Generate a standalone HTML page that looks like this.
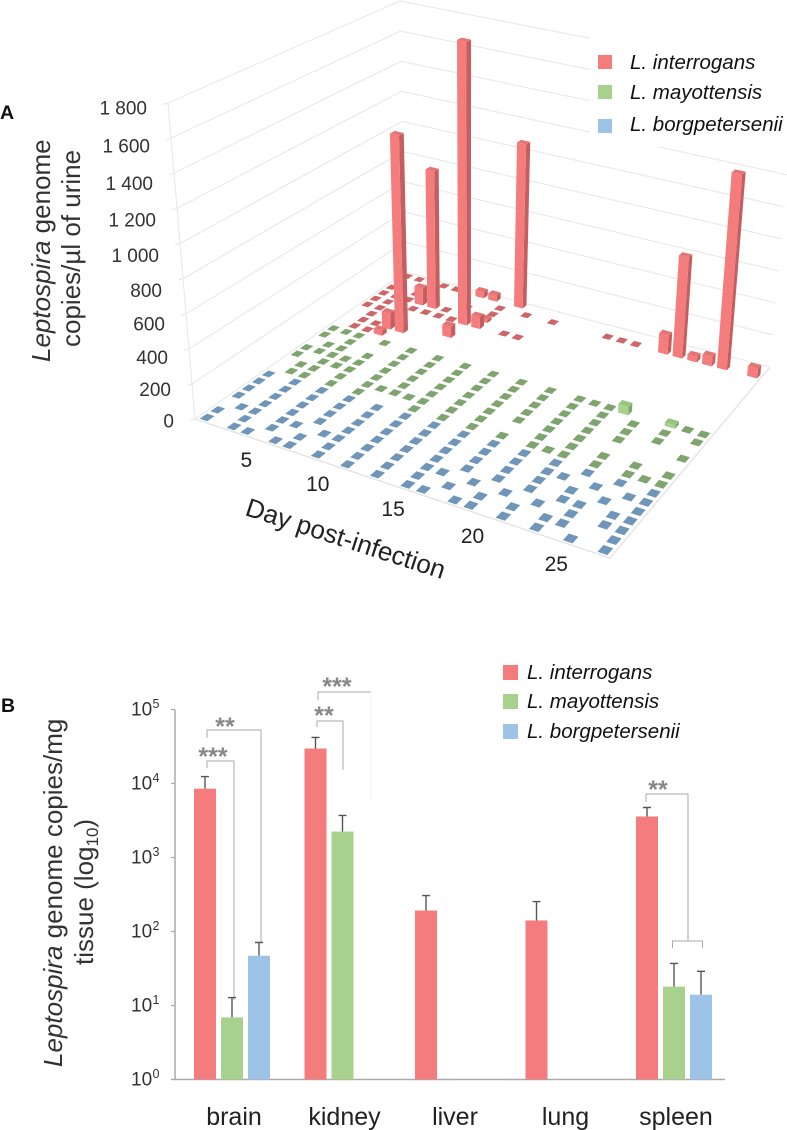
<!DOCTYPE html>
<html lang="en">
<head>
<meta charset="utf-8">
<title>Leptospira genome copies chart</title>
<style>
html,body{margin:0;padding:0;background:#fff;}
svg{display:block;font-family:"Liberation Sans",sans-serif;}
</style>
</head>
<body>
<svg id="figure" xmlns="http://www.w3.org/2000/svg" width="787" height="1130" viewBox="0 0 787 1130">
  <g id="panel-a">
    <g id="a-grid"></g>
    <rect x="590" y="0" width="197" height="147" fill="#fff"></rect>
    <g id="a-marks"></g>
    <g id="a-yticks" font-size="19" fill="#333" text-anchor="end"></g>
    <g id="a-xticks" font-size="21" fill="#222" text-anchor="middle"></g>
    <text x="0" y="119" font-size="19.5" font-weight="bold" fill="#111">A</text>
    <text transform="translate(50,362) rotate(-90)" font-size="26" fill="#333"><tspan font-style="italic">Leptospira</tspan> genome</text>
    <text transform="translate(80,347) rotate(-90)" font-size="26" fill="#333">copies/µl of urine</text>
    <text transform="translate(343,547) rotate(18)" font-size="26" fill="#222" text-anchor="middle">Day post-infection</text>
    <g font-size="20.5" font-style="italic" fill="#111">
      <rect x="598" y="55" width="14" height="14" fill="#f47c7c"></rect>
      <text x="630" y="69">L. interrogans</text>
      <rect x="598" y="85" width="14" height="14" fill="#a9d18e"></rect>
      <text x="630" y="99">L. mayottensis</text>
      <rect x="598" y="119" width="14" height="14" fill="#9dc3e6"></rect>
      <text x="630" y="131">L. borgpetersenii</text>
    </g>
  </g>
  <g id="panel-b">
    <text x="1" y="712" font-size="19.5" font-weight="bold" fill="#111">B</text>
    <text transform="translate(62,1067) rotate(-90)" font-size="26" fill="#333"><tspan font-style="italic">Leptospira</tspan> genome copies/mg</text>
    <text transform="translate(93,965) rotate(-90)" font-size="26" fill="#333">tissue (log<tspan font-size="17" dy="5">10</tspan><tspan dy="-5">)</tspan></text>
    <g id="b-axis"></g>
    <g id="b-brackets"></g>
    <g id="b-bars"></g>
    <g id="b-xticks" font-size="25" fill="#222" text-anchor="middle"></g>
    <g font-size="20.5" font-style="italic" fill="#111">
      <rect x="503" y="665" width="15" height="15" fill="#f47c7c"></rect>
      <text x="527" y="679">L. interrogans</text>
      <rect x="503" y="694" width="15" height="15" fill="#a9d18e"></rect>
      <text x="527" y="708">L. mayottensis</text>
      <rect x="503" y="724" width="15" height="15" fill="#9dc3e6"></rect>
      <text x="527" y="738">L. borgpetersenii</text>
    </g>
  </g>
</svg>
<script>
/* ---------- Panel A data ---------- */
const aDayTicks = [5, 10, 15, 20, 25];
const aValueTicks = [0, 200, 400, 600, 800, 1000, 1200, 1400, 1600, 1800];
const aValueLabels = ['0', '200', '400', '600', '800', '1 000', '1 200', '1 400', '1 600', '1 800'];

/* day index lists per mouse, with the copies measured on those days */
const borgpetersenii_days = [
  [0,2,3,5,6,8,10,12,14,15,17,18,20,22,24,26],
  [0,2,4,6,8,10,12,14,16,18,20,22,23,26],
  [1,2,4,5,7,8,10,12,14,15,17,19,21,23,25,26],
  [0,2,4,6,8,10,12,14,16,18,20,22,23,25,26],
  [0,2,4,6,8,10,12,14,16,18,20,22,24,26],
  [0,2,4,6,8,10,12,14,16,18,20,21,23,25,26],
  [0,2,4,6,8,10,12,14,16,18,20,22,24,26]
];
const borgpetersenii_copies = [
  [0,0,0,0,0,0,0,0,0,0,0,0,0,0,0,0],
  [0,0,0,0,0,0,0,0,0,0,0,0,0,0],
  [0,0,0,0,0,0,0,0,0,0,0,0,0,0,0,0],
  [0,0,0,0,0,0,0,0,0,0,0,0,0,0,0],
  [0,0,0,0,0,0,0,0,0,0,0,0,0,0],
  [0,0,0,0,0,0,0,0,0,0,0,0,0,0,0],
  [0,0,0,0,0,0,0,0,0,0,0,0,0,0]
];
const mayottensis_days = [
  [1,2,4,6,10,12,14,16,18,19,20,22,24,25,26],
  [1,2,4,6,7,8,9,10,12,14,18,20,22,24,26],
  [0,2,3,4,6,8,10,12,14,16,18,20],
  [0,1,2,3,4,6,8,10,12,14,16,18,20,22,26],
  [1,2,4,6,8,10,12,14,16,18,20,22,24],
  [0,2,6,8,10,12,14,16,18,20,22,24,26],
  [0,1,2,4,6,8,10,12,14,16,18,19,20,21,24,25,26]
];
const mayottensis_copies = [
  [0,0,0,0,0,0,0,0,0,0,0,0,0,0,0],
  [0,0,0,0,0,0,0,0,0,0,0,0,0,0,0],
  [0,0,0,0,0,0,0,0,0,0,0,0],
  [0,0,0,0,0,0,0,0,0,0,0,0,0,0,0],
  [0,0,0,0,0,0,0,0,0,0,0,0,0],
  [0,0,0,0,0,0,0,0,0,0,0,0,0],
  [0,0,0,0,0,0,0,0,0,0,0,0,0,50,20,0,0]
];
const interrogans_days = [
  [1,2,3],
  [1,2,3,4],
  [1,7],
  [0,1],
  [0,1,3,4,5,6,7,8,10,11],
  [0,1,2,3,4,5,8],
  [0,2,6,8],
  [8,10,12,16,17,18,20,21,22,23,24,26],
  [0,1,3,4,6,7,9]
];
const interrogans_copies = [
  [0,0,30],
  [0,0,100,1230],
  [0,70],
  [0,0],
  [0,0,0,0,0,0,1790,75,0,0],
  [0,0,0,110,880,0,20],
  [0,0,0,0],
  [0,0,0,0,0,0,120,630,35,60,1215,60],
  [0,0,0,0,40,40,1060]
];

/* ---------- Panel B data ---------- */
const tissues = ['brain', 'kidney', 'liver', 'lung', 'spleen'];
const bDecades = [0, 1, 2, 3, 4, 5];
const bInterrogans = [8500, 29700, 192, 141, 3580];
const bInterrogansErr = [12400, 41900, 306, 254, 4740];
const bMayottensis = [6.9, 2240, null, null, 18];
const bMayottensisErr = [12.8, 3700, null, null, 37];
const bBorgpetersenii = [47, null, null, null, 14];
const bBorgpetersenii_err = [71, null, null, null, 29];

/* ---------- helpers ---------- */
const SVGNS = 'http://www.w3.org/2000/svg';
function mk(tag, attrs, parent) {
  const el = document.createElementNS(SVGNS, tag);
  for (const k in attrs) el.setAttribute(k, attrs[k]);
  parent.appendChild(el);
  return el;
}
function pts(list) { return list.map(p => p[0].toFixed(2) + ',' + p[1].toFixed(2)).join(' '); }

/* ---------- Panel A: projection axes ---------- */
const DAYS = 27, ROWS = 23, VMAX = 1800;
const cA = [195, 419], cB = [610, 558], cC = [770, 367], cD = [405, 272];
const tA = [168, 103], tC = [797, 79], tD = [400, 1];
const proj = (function () {
  const dx1 = cB[0] - cC[0], dx2 = cD[0] - cC[0], sx = cA[0] - cB[0] + cC[0] - cD[0];
  const dy1 = cB[1] - cC[1], dy2 = cD[1] - cC[1], sy = cA[1] - cB[1] + cC[1] - cD[1];
  const den = dx1 * dy2 - dx2 * dy1;
  const g = (sx * dy2 - dx2 * sy) / den, h = (dx1 * sy - sx * dy1) / den;
  return {
    a: cB[0] - cA[0] + g * cB[0], b: cD[0] - cA[0] + h * cD[0], c: cA[0],
    d: cB[1] - cA[1] + g * cB[1], e: cD[1] - cA[1] + h * cD[1], f: cA[1], g: g, h: h
  };
})();
function floorXY(u, v) {
  const w = proj.g * u + proj.h * v + 1;
  return [(proj.a * u + proj.b * v + proj.c) / w, (proj.d * u + proj.e * v + proj.f) / w];
}
const vA = [tA[0] - cA[0], tA[1] - cA[1]];
const vC = [tC[0] - cC[0], tC[1] - cC[1]];
const vD = [tD[0] - cD[0], tD[1] - cD[1]];
const vB = [vA[0] + vC[0] - vD[0], vA[1] + vC[1] - vD[1]];
function lift(u, v, value) {
  const base = floorXY(u, v), k = value / VMAX;
  const mx = (1 - u) * (1 - v) * vA[0] + u * (1 - v) * vB[0] + u * v * vC[0] + (1 - u) * v * vD[0];
  const my = (1 - u) * (1 - v) * vA[1] + u * (1 - v) * vB[1] + u * v * vC[1] + (1 - u) * v * vD[1];
  return [base[0] + mx * k, base[1] + my * k];
}
function mix(p, q, t) { return [p[0] + (q[0] - p[0]) * t, p[1] + (q[1] - p[1]) * t]; }

/* gridlines */
const gridG = document.getElementById('a-grid');
aValueTicks.forEach(function (val) {
  const t = val / VMAX;
  const left = mix(cA, tA, t), back = mix(cD, tD, t), right = mix(cC, tC, t);
  const line = mk('polyline', { points: pts([[left[0] - 5, left[1] + 1.5], left, back, right]), fill: 'none', stroke: '#e8e8e8', 'stroke-width': 1.1 }, gridG);
  
  
});
const wallEdge = mk('line', { x1: cA[0], y1: cA[1], x2: tA[0], y2: tA[1], stroke: '#e8e8e8', 'stroke-width': 1.1 }, gridG);


const floorEdge = mk('polyline', { points: pts([cA, cB, cC]), fill: 'none', stroke: '#e4e4e4', 'stroke-width': 1.4 }, gridG);



/* marks */
const palette = {
  interrogans: { face: '#f47c7c', side: '#c45f5f', top: '#e57474', flat: '#cd6666' },
  mayottensis: { face: '#a9d18e', side: '#7fa66c', top: '#98c47c', flat: '#7fa56f' },
  borgpetersenii: { face: '#9dc3e6', side: '#6f96b8', top: '#8ab', flat: '#6f96b8' }
};
const cells = [];
function addSeries(name, firstRow, daysByMouse, copiesByMouse) {
  daysByMouse.forEach(function (days, m) {
    days.forEach(function (day, i) {
      cells.push({ series: name, day: day, row: firstRow + m, value: copiesByMouse[m][i] });
    });
  });
}
addSeries('borgpetersenii', 0, borgpetersenii_days, borgpetersenii_copies);
addSeries('mayottensis', 7, mayottensis_days, mayottensis_copies);
addSeries('interrogans', 14, interrogans_days, interrogans_copies);
cells.sort(function (p, q) { return q.row - p.row || p.day - q.day; });

const marksG = document.getElementById('a-marks');
cells.forEach(function (c) {
  const col = palette[c.series];
  const tall = c.value > 0;
  const hu = tall ? 0.33 : 0.28, hv = tall ? 0.27 : 0.34;
  const u0 = (c.day + 0.5 - hu) / DAYS, u1 = (c.day + 0.5 + hu) / DAYS;
  const v0 = (c.row + 0.5 - hv) / ROWS, v1 = (c.row + 0.5 + hv) / ROWS;
  const g = mk('g', {}, marksG);
  
  
  if (tall) {
    mk('polygon', { points: pts([floorXY(u1, v0), floorXY(u1, v1), lift(u1, v1, c.value), lift(u1, v0, c.value)]), fill: col.side }, g);
    mk('polygon', { points: pts([floorXY(u0, v0), floorXY(u1, v0), lift(u1, v0, c.value), lift(u0, v0, c.value)]), fill: col.face }, g);
  }
  mk('polygon', { points: pts([lift(u0, v0, c.value), lift(u1, v0, c.value), lift(u1, v1, c.value), lift(u0, v1, c.value)]), fill: tall ? col.top : col.flat }, g);
});

/* ticks */
const yTickG = document.getElementById('a-yticks');
function yLabelPos(val) {
  const t = val / VMAX;
  return 427.5 - (279 * t + 34 * t * t);
}
aValueTicks.forEach(function (val, i) {
  const t = val / VMAX;
  const label = mk('text', { x: (174 - 27 * t).toFixed(1), y: yLabelPos(val).toFixed(1) }, yTickG);
  label.textContent = aValueLabels[i];
  
  
});
const xTickG = document.getElementById('a-xticks');
aDayTicks.forEach(function (day) {
  const p = floorXY((day - 0.5) / DAYS, 0);
  const label = mk('text', { x: (p[0] - 10).toFixed(1), y: (p[1] + 27.5).toFixed(1) }, xTickG);
  label.textContent = String(day);
  
  
});

/* ---------- Panel B: axes ---------- */
const bBaseY = 1079.5, bDecadeH = 74, bAxisX = 175, bGroup0 = 194, bGroupStep = 110.5, bBarW = 22, bBarStep = 27;
function yLog(v) { return bBaseY - Math.log10(v) * bDecadeH; }
function xBar(groupIndex, seriesIndex) { return bGroup0 + groupIndex * bGroupStep + seriesIndex * bBarStep; }

const axisG = document.getElementById('b-axis');
const axisPath = mk('path', { d: 'M' + bAxisX + ' ' + yLog(1e5) + 'V' + bBaseY + 'H725', fill: 'none', stroke: '#aaa', 'stroke-width': 1.5 }, axisG);


bDecades.forEach(function (e) {
  const y = yLog(Math.pow(10, e));
  const tick = mk('line', { x1: bAxisX - 4, x2: bAxisX, y1: y, y2: y, stroke: '#aaa', 'stroke-width': 1.2 }, axisG);
  
  
  const label = mk('text', { x: 131, y: y + 6, 'font-size': 19, fill: '#333' }, axisG);
  label.textContent = '10';
  
  
  const sup = mk('text', { x: 152.5, y: y - 1.5, 'font-size': 12.5, fill: '#333' }, axisG);
  sup.textContent = String(e);
  
  
});

/* significance brackets */
const bracketG = document.getElementById('b-brackets');
function bracket(d, name, stroke) {
  const el = mk('path', { d: d, fill: 'none', stroke: stroke || '#aaa', 'stroke-width': 1 }, bracketG);
  
  
}
function stars(text, cx, cy) {
  const el = mk('text', { x: cx, y: cy + 15, 'font-size': 25, 'font-weight': 'bold', fill: '#888', 'text-anchor': 'middle' }, bracketG);
  el.textContent = text;
  
  
}
bracket('M207 768V761H234V1000', 'bracket-brain-mayottensis');
bracket('M207 738V730H261V942', 'bracket-brain-borgpetersenii');
bracket('M317 727V721H343V770', 'bracket-kidney-mayottensis');
bracket('M318 700V692H371', 'bracket-kidney-borgpetersenii');
bracket('M371 692V800', 'bracket-kidney-faint', '#f4f4f4');
bracket('M646 802V794H688V941M672.5 948V941H702.5V948', 'bracket-spleen');
stars('***', 213, 750);
stars('**', 225, 720);
stars('**', 324, 709);
stars('***', 337, 680);
stars('**', 658, 783);

/* bars */
const barsG = document.getElementById('b-bars');
const bSeries = [
  { name: 'interrogans', color: '#f47c7c', values: bInterrogans, errs: bInterrogansErr },
  { name: 'mayottensis', color: '#a9d18e', values: bMayottensis, errs: bMayottensisErr },
  { name: 'borgpetersenii', color: '#9dc3e6', values: bBorgpetersenii, errs: bBorgpetersenii_err }
];
bSeries.forEach(function (s, si) {
  s.values.forEach(function (val, gi) {
    if (val === null) return;
    const x = xBar(gi, si), y = yLog(val), cx = x + bBarW / 2, ey = yLog(s.errs[gi]);
    const err = mk('path', { d: 'M' + cx + ' ' + y + 'V' + ey + 'M' + (cx - 4) + ' ' + ey + 'H' + (cx + 4), fill: 'none', stroke: '#555', 'stroke-width': 1.4 }, barsG);
    
    
    const bar = mk('rect', { x: x, y: y, width: bBarW, height: bBaseY - y, fill: s.color }, barsG);
    
    
  });
});

const catG = document.getElementById('b-xticks');
tissues.forEach(function (name, gi) {
  const label = mk('text', { x: xBar(gi, 0) + 40, y: 1125 }, catG);
  label.textContent = name;
  
  
});
</script>
</body>
</html>
